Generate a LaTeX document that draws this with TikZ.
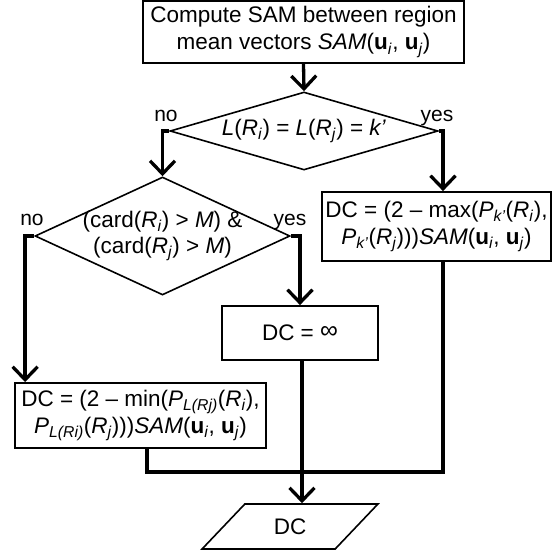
\documentclass[tikz,border=0pt]{standalone}
\usepackage{fontspec}
\setmainfont{Liberation Sans}
\usetikzlibrary{arrows.meta,shapes.geometric,calc}
\newcommand{\sbs}[1]{\textsubscript{\textit{#1}}}
\newcommand{\bu}{\textbf{u}}
\begin{document}
\begin{tikzpicture}[x=1pt,y=-1pt,
  box/.style={draw, line width=1.8pt, inner sep=0pt, align=center, font=\fontsize{22.5}{27}\selectfont},
  dia/.style={draw, diamond, line width=1.6pt, inner sep=0pt},
  dtext/.style={align=center, inner sep=0pt, font=\fontsize{22.5}{26}\selectfont},
  conn/.style={line width=3.3pt},
  arr/.style={conn, -{Straight Barb[length=13pt,width=25pt]}},
  lbl/.style={anchor=base, inner sep=0pt, font=\fontsize{21}{25}\selectfont}]
\useasboundingbox (0,0) rectangle (552,556);
\node[box, minimum width=321, minimum height=62] (top) at (303.5,32)
  {Compute SAM between region\\mean vectors \textit{SAM}(\bu\sbs{i}, \bu\sbs{j})};
\node[dia, minimum width=268, minimum height=78] (d1) at (304,131) {};
\node[dtext] (d1t) at (d1.center) {\textit{L}(\textit{R}\sbs{i}) = \textit{L}(\textit{R}\sbs{j}) = \textit{k’}};
\node[dia, minimum width=255, minimum height=118] (d2) at (162.5,236) {};
\node[dtext] (d2t) at (d2.center) {(card(\textit{R}\sbs{i}) > \textit{M}) \&\\(card(\textit{R}\sbs{j}) > \textit{M})};
\node[box, minimum width=229, minimum height=69] (dcmax) at (436.5,226.5)
  {DC = (2 – max(\textit{P}\sbs{k’}(\textit{R}\sbs{i}),\\\textit{P}\sbs{k’}(\textit{R}\sbs{j})))\textit{SAM}(\bu\sbs{i}, \bu\sbs{j})};
\node[box, minimum width=156, minimum height=54] (dcinf) at (300,333) {DC = \raisebox{2pt}{\fontsize{25}{27}\selectfont ∞}};
\node[box, minimum width=251, minimum height=65] (dcmin) at (140.5,415.5)
  {DC = (2 – min(\textit{P}\sbs{L(Rj)}(\textit{R}\sbs{i}),\\\textit{P}\sbs{L(Ri)}(\textit{R}\sbs{j})))\textit{SAM}(\bu\sbs{i}, \bu\sbs{j})};
\node[trapezium, draw, line width=1.6pt, trapezium left angle=46, trapezium right angle=134,
  trapezium stretches=true, minimum width=176, minimum height=45, inner sep=0pt,
  font=\fontsize{22.5}{27}\selectfont] (dc) at (290,526.5) {DC};
\node[lbl] (no1) at (166,122) {no};
\node[lbl] (yes1) at (437,122) {yes};
\node[lbl] (no2) at (32,225) {no};
\node[lbl] (yes2) at (290,225) {yes};
\draw[arr] (top.south) -- (d1.north);
\draw[arr] (d1.west) -| (d2.north);
\draw[arr] (d1.east) -| ([xshift=6.5pt]dcmax.north);
\draw[arr] (d2.west) -| ([xshift=11pt]dcmin.north west);
\draw[arr] (d2.east) -| (dcinf.north);
\draw[arr] ([xshift=2pt]dcinf.south) -- ([xshift=2pt]dcinf.south |- dc.north);
\coordinate (mL) at (147,472);
\coordinate (mR) at (443,472);
\draw[conn] (dcmin.south -| mL) -- (mL) -- (mR) -- (dcmax.south -| mR);
\end{tikzpicture}
\end{document}
